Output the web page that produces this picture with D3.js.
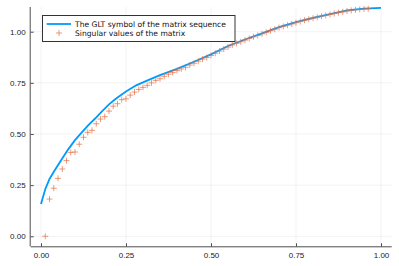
<!DOCTYPE html>
<html lang="en">
<head>
  <meta charset="UTF-8">
  <title>GLT symbol vs singular values</title>
  <style>
    body { margin: 0; background: #fff; }
    svg { display: block; font-family: "DejaVu Sans", sans-serif; }
    .grid line { stroke: #000; stroke-opacity: 0.1; stroke-width: 0.5px; }
    .tick-label { font-size: 8px; fill: #222; }
  </style>
</head>
<body>
  <svg width="399" height="266"></svg>

  <script src="https://d3js.org/d3.v7.min.js"></script>
  <script>
    const width = 399, height = 266;

    // GLT symbol (line)
    const symbolX = [0, 0.0125, 0.025, 0.04, 0.06, 0.08, 0.10, 0.12, 0.14, 0.16, 0.18, 0.20, 0.22, 0.25, 0.28, 0.31,
      0.35, 0.40, 0.45, 0.50, 0.55, 0.60, 0.65, 0.70, 0.75, 0.80, 0.85, 0.90, 0.95, 1.00];
    const symbolY = [0.158, 0.23, 0.28, 0.322, 0.374, 0.425, 0.47, 0.508, 0.545, 0.577, 0.612, 0.645, 0.672, 0.708, 0.738, 0.76,
      0.788, 0.818, 0.853, 0.889, 0.93, 0.962, 0.992, 1.022, 1.047, 1.068, 1.086, 1.104, 1.113, 1.117];

    // singular values, plotted at i/80
    const singIndex = d3.range(1, 78);
    const singValues = [
      0.00, 0.182, 0.235, 0.283, 0.329, 0.37, 0.41, 0.412, 0.45, 0.484,
      0.508, 0.518, 0.55, 0.573, 0.585, 0.612, 0.636, 0.648, 0.668, 0.672,
      0.69, 0.705, 0.718, 0.728, 0.738, 0.75, 0.762, 0.77, 0.782, 0.792,
      0.80, 0.81, 0.818, 0.826, 0.837, 0.846, 0.856, 0.866, 0.874, 0.884,
      0.895, 0.905, 0.915, 0.925, 0.935, 0.943, 0.951, 0.959, 0.967, 0.975,
      0.982, 0.99, 0.997, 1.005, 1.012, 1.02, 1.026, 1.032, 1.038, 1.044,
      1.05, 1.056, 1.061, 1.066, 1.071, 1.076, 1.08, 1.084, 1.089, 1.093,
      1.097, 1.101, 1.104, 1.107, 1.109, 1.111, 1.112
    ];

    const xTicks = [0, 0.25, 0.5, 0.75, 1.0];
    const yTicks = [0, 0.25, 0.5, 0.75, 1.0];
    const legendLabels = ["The GLT symbol of the matrix sequence", "Singular values of the matrix"];

    const mLeft = 30.7, mRight = 391.7, mTop = 7, mBottom = 246.3;

    const x = d3.scaleLinear().domain([-0.0303, 1.0315]).range([mLeft, mRight]);
    const y = d3.scaleLinear().domain([-0.0489, 1.1208]).range([mBottom, mTop]);

    const svg = d3.select("svg");

    // grid
    const grid = svg.append("g").attr("class", "grid");
    grid.selectAll(".gx").data(xTicks).join("line")
      .attr("x1", d => x(d)).attr("x2", d => x(d))
      .attr("y1", mTop).attr("y2", mBottom);
    grid.selectAll(".gy").data(yTicks).join("line")
      .attr("x1", mLeft).attr("x2", mRight)
      .attr("y1", d => y(d)).attr("y2", d => y(d));

    // axes
    const xAxis = svg.append("g").attr("transform", `translate(0,${mBottom})`)
      .call(d3.axisBottom(x).tickValues(xTicks).tickFormat(d3.format(".2f")).tickSizeInner(-3).tickSizeOuter(0).tickPadding(6));
    const yAxis = svg.append("g").attr("transform", `translate(${mLeft},0)`)
      .call(d3.axisLeft(y).tickValues(yTicks).tickFormat(d3.format(".2f")).tickSizeInner(-3).tickSizeOuter(0).tickPadding(5));

    [xAxis, yAxis].forEach(a => {
      a.select(".domain").attr("stroke", "#000").attr("stroke-opacity", 0.7).attr("stroke-width", 1);
      a.selectAll(".tick line").attr("stroke", "#000").attr("stroke-opacity", 0.7);
      a.selectAll(".tick text").attr("class", "tick-label").attr("font-family", null).attr("font-size", null);
    });
    xAxis.select(".domain").attr("d", `M${mLeft},0.5H${mRight}`);
    yAxis.select(".domain").attr("d", `M-0.5,${mTop}V${mBottom}`);

    // GLT symbol line
    const line = d3.line().x(d => x(d[0])).y(d => y(d[1]));
    svg.append("path")
      .datum(d3.zip(symbolX, symbolY))
      .attr("fill", "none")
      .attr("stroke", "#009AFA")
      .attr("stroke-width", 1.8)
      .attr("d", line);

    // crosses
    const cs = 3;
    const cross = svg.append("g").attr("stroke", "#E36F47").attr("stroke-width", 1).attr("stroke-opacity", 0.7);
    cross.selectAll("path").data(d3.zip(singIndex, singValues)).join("path")
      .attr("d", d => {
        const cx = x(d[0] / 80), cy = y(d[1]);
        return `M${cx - cs},${cy}H${cx + cs}M${cx},${cy - cs}V${cy + cs}`;
      });

    // legend
    const lg = svg.append("g");
    lg.append("rect")
      .attr("x", 42.5).attr("y", 15.5).attr("width", 192.5).attr("height", 26)
      .attr("fill", "#fff").attr("stroke", "#000").attr("stroke-opacity", 0.8);
    lg.append("line")
      .attr("x1", 46.7).attr("x2", 71).attr("y1", 24).attr("y2", 24)
      .attr("stroke", "#009AFA").attr("stroke-width", 1.8);
    lg.append("path")
      .attr("d", `M${59 - cs},33H${59 + cs}M59,${33 - cs}V${33 + cs}`)
      .attr("stroke", "#E36F47").attr("stroke-width", 1).attr("stroke-opacity", 0.7);
    lg.selectAll("text").data(legendLabels).join("text")
      .attr("x", 75).attr("y", (d, i) => 24 + i * 9.3)
      .attr("dy", "0.35em")
      .attr("font-size", 7.6)
      .attr("fill", "#111")
      .text(d => d);
  </script>
</body>
</html>
